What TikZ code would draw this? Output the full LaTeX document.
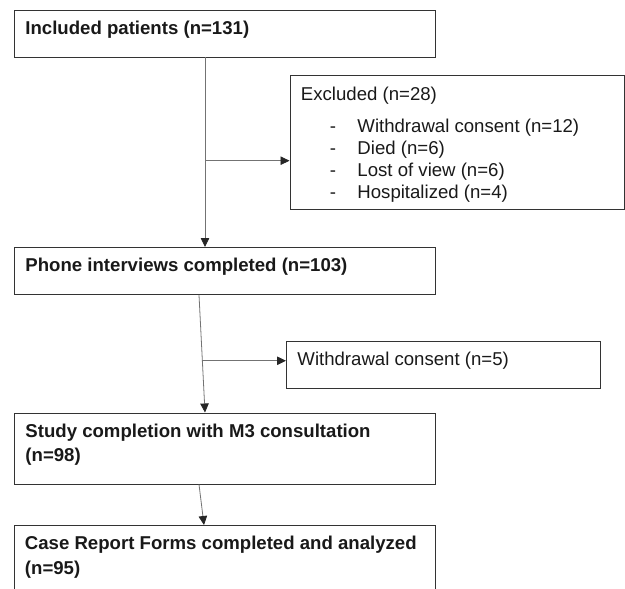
\documentclass[tikz,border=0pt]{standalone}
\usepackage{fontspec}
\setmainfont{Liberation Sans}
\usetikzlibrary{arrows.meta,calc}

\newcommand{\topstrut}{\rule{0pt}{17pt}}
\newcommand{\boxtext}[3]{\parbox[t][#2][t]{#1}{\raggedright\topstrut #3}}
\newcommand{\listitem}[1]{\hspace*{29pt}\makebox[27.5pt][l]{-}#1}

\tikzset{
  flowbox/.style={draw=black!80, line width=0.9pt, anchor=north west,
    inner xsep=11pt, inner ysep=7.5pt, text=black!90,
    font=\fontsize{18.6}{24.5}\selectfont\bfseries},
  sidebox/.style={flowbox, font=\fontsize{18.6}{22.2}\selectfont},
  link/.style={draw=black!55, line width=0.8pt,
    -{Triangle[length=9pt,width=8.5pt,color=black!85]}},
}

\begin{document}
\begin{tikzpicture}[x=1pt, y=-1pt]
  \useasboundingbox (0,0) rectangle (625,589);
  \clip (0,0) rectangle (625,589);

  % Boxes
  \node[flowbox] (incl) at (14,10) {\boxtext{399pt}{31.5pt}{Included patients (n=131)}};
  \node[sidebox] (excl) at (289.5,75.3) {\boxtext{312pt}{119pt}{Excluded (n=28)\\[9.8pt]
    \listitem{Withdrawal consent (n=12)}\\
    \listitem{Died (n=6)}\\
    \listitem{Lost of view (n=6)}\\
    \listitem{Hospitalized (n=4)}}};
  \node[flowbox] (phone) at (14,247) {\boxtext{399pt}{32pt}{Phone interviews completed (n=103)}};
  \node[sidebox] (wdr) at (286,340.7) {\boxtext{292pt}{32pt}{Withdrawal consent (n=5)}};
  \node[flowbox] (study) at (14,412.5) {\boxtext{399pt}{56pt}{Study completion with M3 consultation\\(n=98)}};
  \node[flowbox] (crf) at (13.5,525) {\boxtext{399.5pt}{56pt}{Case Report Forms completed and analyzed\\(n=95)}};

  % Lines
  \coordinate (split1) at (205,160.7);
  \draw[link] (split1 |- incl.south) -- (split1 |- phone.north);
  \draw[link] (split1) -- (split1 -| excl.west);

  \coordinate (top2) at ($(phone.south west)+(185,0)$);
  \coordinate (end2) at ($(study.north west)+(191,0)$);
  \draw[link] (top2) -- (end2);
  \coordinate (split2) at ($(top2)!0.56!(end2)$);
  \draw[link] (split2) -- (split2 -| wdr.west);

  \draw[link] ($(study.south west)+(185,0)$) -- ($(crf.north west)+(190.5,0)$);
\end{tikzpicture}
\end{document}
